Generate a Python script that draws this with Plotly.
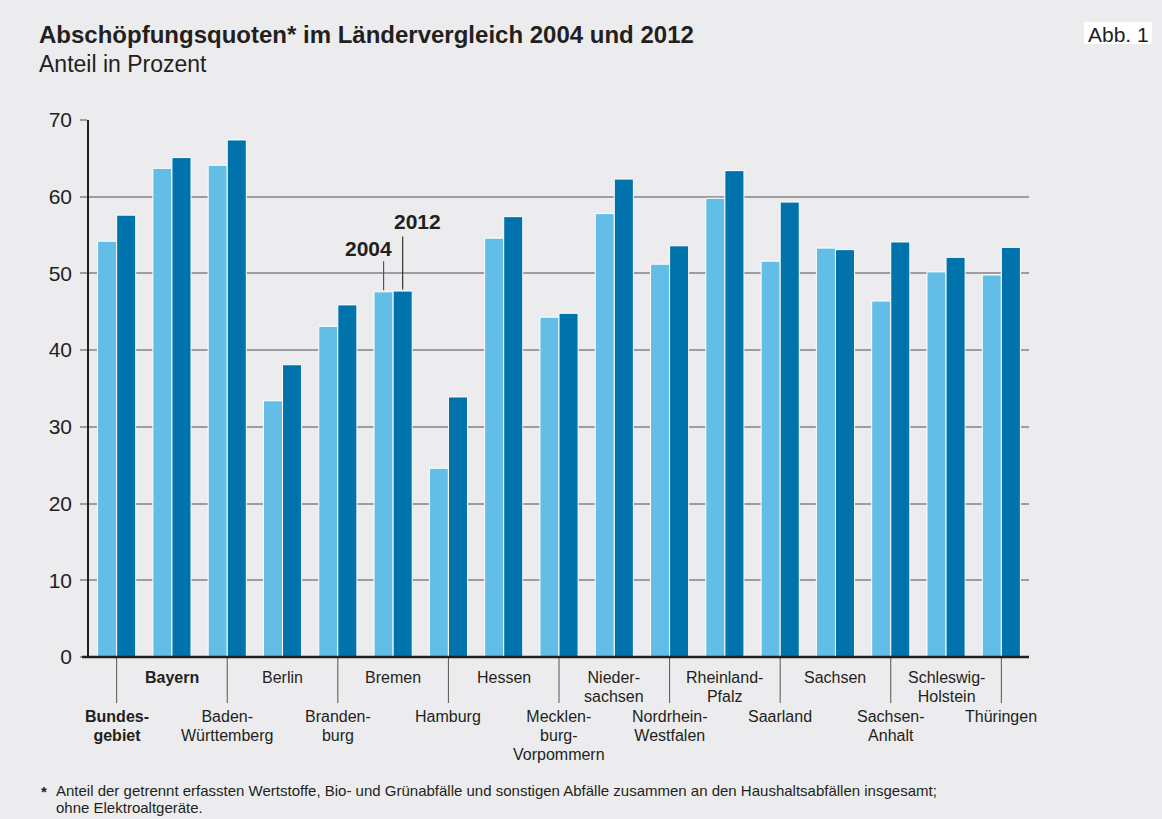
import plotly.graph_objects as go

categories = ["Bundesgebiet", "Bayern", "Baden-Württemberg", "Berlin", "Brandenburg", "Bremen",
              "Hamburg", "Hessen", "Mecklenburg-Vorpommern", "Niedersachsen", "Nordrhein-Westfalen",
              "Rheinland-Pfalz", "Saarland", "Sachsen", "Sachsen-Anhalt", "Schleswig-Holstein", "Thüringen"]
labels = [["<b>Bundes-</b>", "<b>gebiet</b>"], ["<b>Bayern</b>"], ["Baden-", "Württemberg"], ["Berlin"],
          ["Branden-", "burg"], ["Bremen"], ["Hamburg"], ["Hessen"], ["Mecklen-", "burg-", "Vorpommern"],
          ["Nieder-", "sachsen"], ["Nordrhein-", "Westfalen"], ["Rheinland-", "Pfalz"], ["Saarland"],
          ["Sachsen"], ["Sachsen-", "Anhalt"], ["Schleswig-", "Holstein"], ["Thüringen"]]
values_2004 = [54.2, 63.7, 64.1, 33.4, 43.1, 47.6, 24.6, 54.6, 44.3, 57.8, 51.2, 59.8, 51.6, 53.3, 46.4, 50.2, 49.8]
values_2012 = [57.6, 65.1, 67.4, 38.1, 45.9, 47.7, 33.9, 57.4, 44.8, 62.3, 53.6, 63.4, 59.3, 53.1, 54.1, 52.1, 53.4]
y_ticks = [0, 10, 20, 30, 40, 50, 60, 70]
footnote_lines = ["Anteil der getrennt erfassten Wertstoffe, Bio- und Grünabfälle und sonstigen Abfälle zusammen an den Haushaltsabfällen insgesamt;",
                  "ohne Elektroaltgeräte."]

TXT = "#231f20"
BG = "#ececee"
FONT = "Liberation Sans, Arial, Helvetica, sans-serif"

W, H = 1162, 819
ML, MR, MT, MB = 89, 133, 120, 162
PW, PH = W - ML - MR, H - MT - MB

def px_x(p):
    return (p - ML) / PW

def px_y(p):
    return (H - MB - p) / PH

def tight(lines, size):
    # each line drawn at `size`, line spacing governed by the annotation font size
    return "<br>".join('<span style="font-size:%dpx">%s</span>' % (size, ln) for ln in lines)

x_idx = list(range(len(categories)))

fig = go.Figure()
fig.add_trace(go.Bar(x=x_idx, y=values_2004, name="2004", marker=dict(color="#62bee7", line=dict(color="white", width=1))))
fig.add_trace(go.Bar(x=x_idx, y=values_2012, name="2012", marker=dict(color="#0073ad", line=dict(color="white", width=1))))

annotations = []
shapes = []

# Title and subtitle
annotations.append(dict(text="<b>Abschöpfungsquoten* im Ländervergleich 2004 und 2012</b>", xref="paper", yref="paper",
                        x=px_x(37), y=px_y(34), xanchor="left", yanchor="middle", showarrow=False,
                        font=dict(size=24, color=TXT, family=FONT)))
annotations.append(dict(text="Anteil in Prozent", xref="paper", yref="paper",
                        x=px_x(37), y=px_y(64), xanchor="left", yanchor="middle", showarrow=False,
                        font=dict(size=23, color=TXT, family=FONT)))
# Abb. 1 box
shapes.append(dict(type="rect", xref="paper", yref="paper", x0=px_x(1084), x1=px_x(1152), y0=px_y(44), y1=px_y(22),
                   fillcolor="white", line=dict(width=0), layer="below"))
annotations.append(dict(text="Abb. 1", xref="paper", yref="paper",
                        x=px_x(1118), y=px_y(34), xanchor="center", yanchor="middle", showarrow=False,
                        font=dict(size=21, color=TXT, family=FONT)))

# Category labels
for i, lines in enumerate(labels):
    if i % 2 == 1:
        top = 667
    else:
        top = 706
        shapes.append(dict(type="line", xref="x", yref="paper", x0=i, x1=i, y0=px_y(657), y1=px_y(703),
                           line=dict(color="#555555", width=1)))
    annotations.append(dict(text=tight(lines, 16), xref="x", yref="paper", x=i, y=px_y(top),
                            xanchor="center", yanchor="top", showarrow=False, align="center",
                            font=dict(size=14.5, color=TXT, family=FONT)))

# 2004/2012 markers at Bremen
bi = categories.index("Bremen")
off = 0.1725
shapes.append(dict(type="line", xref="x", yref="y", x0=bi - off, x1=bi - off, y0=values_2004[bi] + 0.2, y1=51.6,
                   line=dict(color="#555555", width=1.2)))
shapes.append(dict(type="line", xref="x", yref="y", x0=bi + off, x1=bi + off, y0=values_2012[bi] + 0.2, y1=54.8,
                   line=dict(color="#333333", width=1.2)))
annotations.append(dict(text="<b>2004</b>", xref="x", yref="y", x=bi - 0.45, y=53.3, showarrow=False,
                        font=dict(size=21, color=TXT, family=FONT)))
annotations.append(dict(text="<b>2012</b>", xref="x", yref="y", x=bi + 0.44, y=56.8, showarrow=False,
                        font=dict(size=21, color=TXT, family=FONT)))

# Footnote
annotations.append(dict(text="<b>*</b>", xref="paper", yref="paper", x=px_x(39), y=px_y(791), xanchor="left",
                        yanchor="middle", showarrow=False, font=dict(size=15, color=TXT, family=FONT)))
annotations.append(dict(text=tight(footnote_lines, 15), xref="paper", yref="paper", x=px_x(54), y=px_y(780),
                        xanchor="left", yanchor="top", showarrow=False, align="left",
                        font=dict(size=13.1, color=TXT, family=FONT)))

# x baseline
shapes.append(dict(type="line", xref="paper", yref="paper", x0=px_x(82), x1=1.0, y0=0, y1=0,
                   line=dict(color="#231f20", width=2.5)))

fig.update_layout(
    width=W, height=H,
    margin=dict(l=ML, r=MR, t=MT, b=MB),
    paper_bgcolor=BG, plot_bgcolor=BG,
    barmode="group", bargap=0.31, bargroupgap=0.0,
    showlegend=False,
    annotations=annotations, shapes=shapes,
    font=dict(family=FONT, color=TXT),
    xaxis=dict(range=[-0.5, len(categories) - 0.5], showticklabels=False, showgrid=False, zeroline=False,
               showline=False, ticks=""),
    yaxis=dict(range=[0, 70], tickvals=y_ticks, showgrid=True, gridcolor="#9d9d9f", gridwidth=1.5,
               zeroline=False, showline=True, linecolor="#231f20", linewidth=1.5,
               ticks="outside", ticklen=7, tickcolor="#9d9d9f", tickwidth=1.5, ticklabelstandoff=4,
               tickfont=dict(size=21, color=TXT, family=FONT)),
)

fig.write_html("out.html", config={"displayModeBar": False},
               post_script="document.body.style.margin='0';document.body.style.overflow='hidden';document.body.style.background='%s';" % BG)
